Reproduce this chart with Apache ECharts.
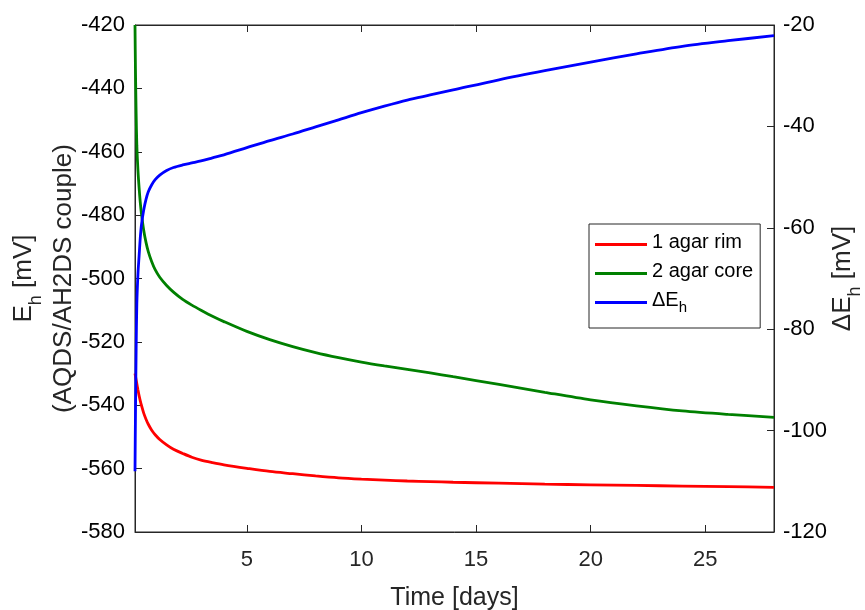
<!DOCTYPE html>
<html>
<head>
<meta charset="utf-8">
<script src="https://cdn.jsdelivr.net/npm/echarts@6/dist/echarts.min.js"></script>
<style>
    html, body { margin: 0; padding: 0; background: #fff; }
    #chart { width: 865px; height: 610px; }
</style>
</head>
<body>
<div id="chart"></div>
<script>
// time axis, days
const timeDays = [0.12, 0.14, 0.17, 0.2, 0.25, 0.3, 0.35, 0.4, 0.5, 0.6, 0.7, 0.85, 1.0, 1.2, 1.5, 1.8, 2.2, 2.6, 3, 3.5, 4, 5, 6, 7, 8, 9, 10, 11, 12, 13, 14, 16, 18, 20, 22, 24, 26, 28];
// Eh of agar rim and agar core, mV (left axis)
const rimEh = [-530, -530.8, -532, -533.2, -535.2, -537, -538.6, -540, -542.5, -544.4, -546, -547.9, -549.3, -550.8, -552.5, -553.9, -555.2, -556.4, -557.3, -558.1, -558.8, -559.9, -560.9, -561.6, -562.3, -562.9, -563.3, -563.6, -563.9, -564.1, -564.3, -564.6, -564.9, -565.1, -565.3, -565.5, -565.7, -565.9];
const coreEh = [-420, -434, -448, -458, -466, -471.5, -476, -479.5, -484.8, -488.6, -491.5, -494.7, -497.2, -499.6, -502.2, -504.3, -506.6, -508.4, -510, -511.9, -513.6, -516.7, -519.3, -521.5, -523.4, -525, -526.4, -527.6, -528.7, -529.8, -531, -533.4, -535.9, -538.3, -540.2, -541.8, -542.9, -543.8];
// delta Eh, mV (right axis)
const deltaEh = [-108, -97, -84, -75, -69, -65.5, -62, -59.5, -56.5, -54.4, -52.9, -51.5, -50.5, -49.6, -48.7, -48.1, -47.6, -47.2, -46.8, -46.2, -45.6, -44.2, -42.8, -41.5, -40.1, -38.7, -37.3, -36, -34.8, -33.8, -32.8, -30.8, -29, -27.3, -25.7, -24.2, -23.1, -22.1];
const xTicks = [5, 10, 15, 20, 25];

const axisColor = '#262626';
const font = 'Liberation Sans, Arial, Helvetica, sans-serif';

const pairs = (ys) => timeDays.map((t, i) => [t, ys[i]]);

const richName = {
    n: { fontSize: 26, fontFamily: font, color: axisColor, verticalAlign: 'bottom', padding: [0, 0, 8, 0] },
    s: { fontSize: 18, fontFamily: font, color: axisColor, verticalAlign: 'bottom' }
};

function lineSeries(name, ys, axisIndex, color) {
    return {
        name: name,
        type: 'line',
        data: pairs(ys),
        yAxisIndex: axisIndex,
        showSymbol: false,
        smooth: 0.3,
        color: color,
        lineStyle: { width: 2.8 }
    };
}

var myChart = echarts.init(document.getElementById('chart'));

myChart.setOption({
    animation: false,
    backgroundColor: '#fff',
    grid: {
        left: 135,
        right: 91,
        top: 25,
        bottom: 78,
        containLabel: false,
        outerBoundsMode: 'none',
        show: true,
        borderColor: axisColor,
        borderWidth: 1
    },
    legend: {
        orient: 'vertical',
        left: 589,
        top: 224,
        padding: [8, 7, 13, 6],
        itemGap: 9,
        itemWidth: 52,
        itemHeight: 3,
        icon: 'rect',
        borderColor: axisColor,
        borderWidth: 1,
        backgroundColor: '#fff',
        formatter: function (name) {
            return name === 'dE' ? '{n|ΔE}{s|h}' : '{n|' + name + '}';
        },
        textStyle: {
            rich: {
                n: { fontSize: 20, fontFamily: font, color: '#000', verticalAlign: 'bottom', padding: [0, 0, 5, 0] },
                s: { fontSize: 15, fontFamily: font, color: '#000', verticalAlign: 'bottom' }
            }
        }
    },
    xAxis: [
        {
            type: 'value',
            min: 0.12,
            max: 28,
            name: 'Time [days]',
            nameLocation: 'middle',
            nameGap: 54,
            nameMoveOverlap: false,
            nameTextStyle: { fontSize: 25, fontFamily: font, color: axisColor },
            axisLine: { lineStyle: { color: axisColor, width: 1 } },
            axisTick: { inside: true, length: 7, customValues: xTicks, lineStyle: { color: axisColor } },
            axisLabel: { customValues: xTicks, margin: 17, fontSize: 22, fontFamily: font, color: axisColor },
            splitLine: { show: false }
        },
        {
            type: 'value',
            position: 'top',
            min: 0.12,
            max: 28,
            axisLine: { lineStyle: { color: axisColor, width: 1 } },
            axisTick: { inside: true, length: 7, customValues: xTicks, lineStyle: { color: axisColor } },
            axisLabel: { show: false },
            splitLine: { show: false }
        }
    ],
    yAxis: [
        {
            type: 'value',
            position: 'left',
            min: -580,
            max: -420,
            interval: 20,
            name: '{n|E}{s|h}{n| [mV]}\n{n|(AQDS/AH2DS couple)}',
            nameLocation: 'middle',
            nameRotate: 90,
            nameGap: 50,
            nameMoveOverlap: false,
            nameTextStyle: { rich: richName, lineHeight: 40 },
            axisLine: { show: true, lineStyle: { color: axisColor, width: 1 } },
            axisTick: { inside: true, length: 7, lineStyle: { color: axisColor } },
            axisLabel: { margin: 10, fontSize: 22, fontFamily: font, color: '#000' },
            splitLine: { show: false }
        },
        {
            type: 'value',
            position: 'right',
            min: -120,
            max: -20,
            interval: 20,
            name: '{n|ΔE}{s|h}{n| [mV]}',
            nameLocation: 'middle',
            nameRotate: 90,
            nameGap: 56,
            nameMoveOverlap: false,
            nameTextStyle: { rich: richName },
            axisLine: { show: true, lineStyle: { color: axisColor, width: 1 } },
            axisTick: { inside: true, length: 7, lineStyle: { color: axisColor } },
            axisLabel: { margin: 9, fontSize: 22, fontFamily: font, color: '#000' },
            splitLine: { show: false }
        }
    ],
    series: [
        lineSeries('1 agar rim', rimEh, 0, '#ff0000'),
        lineSeries('2 agar core', coreEh, 0, '#008000'),
        lineSeries('dE', deltaEh, 1, '#0000ff')
    ]
});
</script>
</body>
</html>
